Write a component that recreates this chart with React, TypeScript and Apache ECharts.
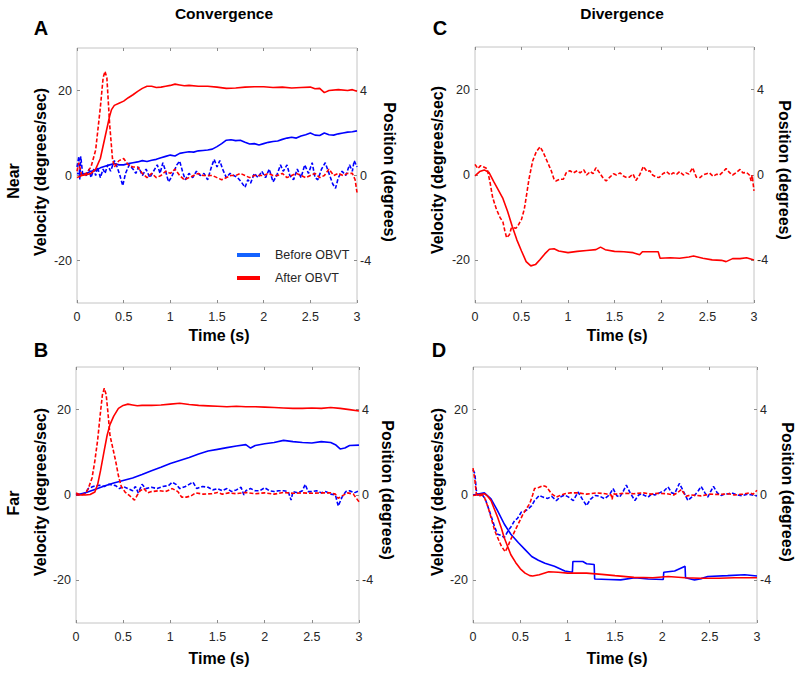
import React, { useEffect, useRef } from "react";
import * as echarts from "echarts";

type Pt = [number, number];

// Axis ticks
const TIME_TICKS_INTERVAL = 0.5;
const VEL_TICKS = [-20, 0, 20];
const POS_TICKS = [-4, 0, 4];

// ---------- Panel A: Near, Convergence ----------
// velocity (deg/s), dashed
const A_VEL_BEFORE: Pt[] = [[0,2],[0.02,4.5],[0.03,-1],[0.04,4.5],[0.06,0.5],[0.1,0],[0.13,1.5],[0.15,-0.5],[0.18,1.5],[0.2,0],[0.22,2],[0.25,-0.5],[0.28,1.5],[0.3,0.5],[0.33,2.5],[0.36,1],[0.4,3.5],[0.43,2],[0.46,0],[0.49,-2.4],[0.52,0.5],[0.56,2.5],[0.6,1.5],[0.63,0.5],[0.66,2],[0.7,0],[0.74,1.5],[0.78,-0.5],[0.82,1],[0.86,2.5],[0.89,0.5],[0.92,3],[0.95,1],[0.98,-1.5],[1.01,-0.5],[1.04,1],[1.07,2.5],[1.1,3.4],[1.13,1],[1.16,-1],[1.2,0.5],[1.24,-0.5],[1.28,1],[1.32,0],[1.36,0.5],[1.4,-1],[1.44,2],[1.47,3.8],[1.5,2],[1.53,3.5],[1.56,1.5],[1.6,-0.5],[1.64,0.5],[1.68,0],[1.72,-0.5],[1.76,-1.5],[1.8,-2.8],[1.83,-1],[1.86,-1.8],[1.9,0.5],[1.94,-0.5],[1.98,1],[2.02,-0.5],[2.06,1.5],[2.1,-1.5],[2.14,0],[2.18,2.5],[2.21,1],[2.25,2.5],[2.28,0],[2.32,-1],[2.36,1.5],[2.4,-0.5],[2.44,2.5],[2.48,0.5],[2.52,3],[2.55,-0.5],[2.58,-1],[2.62,1.5],[2.66,3],[2.7,0.5],[2.74,-2],[2.77,-3],[2.8,-0.5],[2.84,1],[2.88,0],[2.92,2.5],[2.95,1],[2.97,3.5],[3,2]];
const A_VEL_AFTER: Pt[] = [[0,1],[0.02,3],[0.05,0],[0.1,0.5],[0.15,2],[0.2,6],[0.25,16],[0.28,23],[0.3,24.5],[0.32,23],[0.35,12],[0.38,4],[0.4,2],[0.45,3.5],[0.5,4],[0.55,2.5],[0.6,2],[0.65,2],[0.7,0.5],[0.75,-0.5],[0.8,0.5],[0.85,-0.5],[0.9,0],[0.95,1],[1,0.5],[1.05,1.5],[1.1,0],[1.15,-1],[1.2,-0.5],[1.25,0],[1.3,0.5],[1.35,0],[1.4,0],[1.45,0],[1.5,-0.5],[1.55,-1],[1.6,-0.5],[1.65,0],[1.7,0],[1.75,0.5],[1.8,0],[1.85,-0.5],[1.9,0],[1.95,0],[2,0],[2.05,0.5],[2.1,0],[2.15,0],[2.2,0.5],[2.25,-0.5],[2.3,0],[2.35,0.5],[2.4,0],[2.45,-0.5],[2.5,0],[2.55,0.5],[2.6,-0.5],[2.65,0],[2.7,1.5],[2.75,0],[2.8,0.5],[2.85,0],[2.9,0.5],[2.95,0.5],[2.98,-1],[3,-4]];
// position (deg), solid
const A_POS_BEFORE: Pt[] = [[0,0.1],[0.05,0.06],[0.1,0.1],[0.15,0.2],[0.2,0.24],[0.25,0.36],[0.3,0.44],[0.35,0.5],[0.4,0.56],[0.45,0.5],[0.5,0.5],[0.55,0.56],[0.6,0.6],[0.65,0.64],[0.7,0.7],[0.75,0.66],[0.8,0.72],[0.85,0.76],[0.9,0.84],[0.95,0.9],[1,0.96],[1.05,0.92],[1.1,1.04],[1.15,1.08],[1.2,1.12],[1.25,1.1],[1.3,1.16],[1.35,1.18],[1.4,1.2],[1.45,1.24],[1.5,1.36],[1.55,1.5],[1.6,1.66],[1.65,1.68],[1.7,1.64],[1.75,1.66],[1.8,1.56],[1.85,1.48],[1.9,1.5],[1.95,1.44],[2,1.5],[2.05,1.56],[2.1,1.6],[2.15,1.62],[2.2,1.7],[2.25,1.76],[2.3,1.8],[2.35,1.76],[2.4,1.86],[2.45,1.92],[2.5,2],[2.55,1.9],[2.6,1.88],[2.65,2],[2.7,1.92],[2.75,1.9],[2.8,1.96],[2.85,2],[2.9,2.04],[2.95,2.06],[3,2.1]];
const A_POS_AFTER: Pt[] = [[0,-0.1],[0.05,0],[0.1,0.04],[0.15,0.1],[0.2,0.3],[0.25,0.8],[0.3,1.8],[0.35,2.8],[0.37,3.1],[0.4,3.3],[0.45,3.4],[0.5,3.5],[0.55,3.66],[0.6,3.8],[0.65,3.96],[0.7,4.1],[0.75,4.2],[0.8,4.2],[0.85,4.14],[0.9,4.16],[0.95,4.2],[1,4.24],[1.05,4.3],[1.1,4.26],[1.15,4.22],[1.2,4.24],[1.3,4.2],[1.4,4.2],[1.5,4.16],[1.6,4.1],[1.7,4.12],[1.8,4.16],[1.9,4.18],[2,4.18],[2.1,4.14],[2.2,4.16],[2.3,4.12],[2.4,4.14],[2.5,4.16],[2.55,4.08],[2.6,4.1],[2.65,3.9],[2.7,4],[2.8,4.04],[2.9,4],[2.95,4.04],[3,3.96]];

// ---------- Panel B: Far, Convergence ----------
const B_VEL_BEFORE: Pt[] = [[0,0.3],[0.05,0],[0.1,0.5],[0.13,1.5],[0.18,2],[0.25,2.3],[0.3,2],[0.35,2.5],[0.42,2.2],[0.46,1.5],[0.5,2],[0.55,1.5],[0.6,1],[0.63,2],[0.66,0.5],[0.7,2.5],[0.74,1.5],[0.8,1.8],[0.86,1.5],[0.92,2],[0.98,2.2],[1.02,3],[1.06,2.5],[1.1,1.5],[1.16,2],[1.2,2.5],[1.24,3],[1.28,1.5],[1.34,2],[1.4,1.8],[1.45,1.2],[1.5,1.5],[1.55,1],[1.6,1.5],[1.65,0.8],[1.7,1.2],[1.75,1.8],[1.78,0],[1.8,1],[1.85,1.5],[1.9,1],[1.95,1],[2,1.7],[2.05,1],[2.1,0.8],[2.15,1],[2.2,1],[2.25,0.8],[2.28,-1.2],[2.3,0.8],[2.35,0.5],[2.4,1],[2.43,2.5],[2.46,0.8],[2.5,0.8],[2.55,1],[2.6,0.5],[2.65,0.8],[2.7,0.2],[2.75,0],[2.78,-2.6],[2.82,-0.5],[2.86,0.8],[2.9,1],[2.95,0.5],[3,1]];
const B_VEL_AFTER: Pt[] = [[0,0.5],[0.05,0],[0.1,0.3],[0.13,1.5],[0.17,4],[0.2,8],[0.23,13],[0.26,19.5],[0.28,23.5],[0.3,25],[0.32,23.5],[0.34,19],[0.36,14],[0.39,11],[0.42,8],[0.45,4.5],[0.48,2],[0.52,0.7],[0.56,0],[0.6,-0.8],[0.62,-1.2],[0.65,0],[0.68,1],[0.72,1.5],[0.76,0.5],[0.8,0.8],[0.88,1],[0.95,0.8],[1.02,1.5],[1.08,0.8],[1.12,-0.5],[1.17,-0.5],[1.22,-0.2],[1.27,0.5],[1.35,0.2],[1.44,0.3],[1.5,0.6],[1.55,0.2],[1.62,0.5],[1.7,0.3],[1.8,0.6],[1.9,0.3],[2,0.5],[2.1,0.2],[2.2,0.6],[2.3,0.4],[2.4,0.5],[2.5,0.4],[2.6,0.5],[2.7,0.5],[2.75,0.2],[2.78,-0.8],[2.82,-0.2],[2.88,0.5],[2.94,0.2],[3,-1.6]];
const B_POS_BEFORE: Pt[] = [[0,0],[0.1,0.1],[0.2,0.26],[0.3,0.42],[0.4,0.56],[0.5,0.68],[0.6,0.8],[0.7,0.96],[0.8,1.14],[0.9,1.3],[1,1.48],[1.1,1.62],[1.2,1.76],[1.3,1.92],[1.4,2.06],[1.5,2.14],[1.6,2.22],[1.7,2.3],[1.8,2.36],[1.85,2.2],[1.9,2.32],[2,2.4],[2.1,2.46],[2.2,2.56],[2.3,2.5],[2.4,2.46],[2.5,2.44],[2.6,2.5],[2.7,2.46],[2.75,2.36],[2.8,2.16],[2.85,2.2],[2.9,2.32],[3,2.34]];
const B_POS_AFTER: Pt[] = [[0,0],[0.1,0],[0.15,0.02],[0.2,0.14],[0.23,0.5],[0.26,1.14],[0.3,2.1],[0.33,2.8],[0.36,3.3],[0.4,3.7],[0.45,4.06],[0.5,4.2],[0.55,4.26],[0.6,4.22],[0.65,4.18],[0.7,4.2],[0.8,4.2],[0.9,4.22],[1,4.26],[1.1,4.3],[1.2,4.24],[1.3,4.2],[1.4,4.18],[1.5,4.16],[1.6,4.14],[1.7,4.16],[1.8,4.14],[1.9,4.14],[2,4.12],[2.1,4.1],[2.2,4.08],[2.3,4.06],[2.4,4.06],[2.5,4.08],[2.6,4.06],[2.7,4.1],[2.8,4.06],[2.9,4],[3,3.94]];

// ---------- Panel C: Near, Divergence ----------
const C_VEL_AFTER: Pt[] = [[0,2.5],[0.03,1.5],[0.06,2.2],[0.1,1.8],[0.13,1.5],[0.16,-1.5],[0.19,-5.3],[0.23,-8],[0.27,-10],[0.3,-11],[0.32,-13],[0.34,-14.7],[0.37,-14],[0.39,-12.5],[0.41,-12.3],[0.44,-12.5],[0.46,-12],[0.5,-10.4],[0.53,-8],[0.55,-5.3],[0.58,-1],[0.62,3.3],[0.66,5.5],[0.7,6.6],[0.73,5.5],[0.75,4.5],[0.79,2.5],[0.82,1],[0.85,-1],[0.87,-1.4],[0.91,-1],[0.95,-1],[0.98,0.5],[1.02,1],[1.06,0.5],[1.1,1],[1.13,0.5],[1.17,1.2],[1.2,0],[1.24,0.8],[1.27,0.3],[1.3,1.7],[1.34,0.5],[1.38,-0.8],[1.41,-1.4],[1.45,-0.5],[1.49,0.3],[1.52,0],[1.56,0.5],[1.6,-0.3],[1.63,-0.6],[1.66,-0.5],[1.7,0.2],[1.73,-1.3],[1.77,0],[1.81,2],[1.85,0.8],[1.88,1],[1.91,0],[1.95,-0.5],[1.98,-0.6],[2.02,0.3],[2.06,0.8],[2.1,0],[2.13,0.5],[2.17,0.2],[2.2,0.8],[2.24,0],[2.27,0.5],[2.3,0.2],[2.34,1.7],[2.38,-0.5],[2.42,-0.6],[2.45,0],[2.49,0.3],[2.52,0.5],[2.56,-0.3],[2.6,0.2],[2.63,0],[2.67,0.8],[2.7,1.5],[2.74,0.5],[2.77,0],[2.81,0.6],[2.85,1.3],[2.88,0.5],[2.92,0.6],[2.95,0],[2.97,-1.4],[2.98,0],[3,-3.7]];
const C_POS_AFTER: Pt[] = [[0,-0.04],[0.05,0.16],[0.1,0.24],[0.15,0.12],[0.2,-0.3],[0.25,-0.7],[0.3,-1.1],[0.35,-1.7],[0.4,-2.4],[0.45,-3.04],[0.5,-3.56],[0.55,-4.06],[0.6,-4.26],[0.65,-4.2],[0.7,-3.96],[0.75,-3.7],[0.8,-3.48],[0.85,-3.46],[0.9,-3.56],[1,-3.64],[1.1,-3.58],[1.2,-3.54],[1.3,-3.5],[1.35,-3.38],[1.4,-3.5],[1.5,-3.58],[1.6,-3.6],[1.7,-3.64],[1.77,-3.74],[1.8,-3.6],[1.97,-3.6],[1.99,-3.9],[2.1,-3.88],[2.2,-3.9],[2.3,-3.84],[2.35,-3.8],[2.45,-3.9],[2.55,-3.98],[2.65,-4],[2.7,-4.06],[2.77,-3.92],[2.85,-3.92],[2.92,-3.88],[3,-3.98]];

// ---------- Panel D: Far, Divergence ----------
const D_VEL_BEFORE: Pt[] = [[0,5.9],[0.02,5],[0.035,1.1],[0.05,0],[0.1,0],[0.13,-1],[0.16,-2.9],[0.2,-5.5],[0.23,-7.6],[0.26,-9.2],[0.3,-9.5],[0.33,-10],[0.37,-8.4],[0.4,-7.5],[0.44,-6],[0.47,-5.5],[0.51,-4],[0.55,-3.8],[0.58,-3.3],[0.62,-2.5],[0.65,-1.3],[0.7,-0.1],[0.74,-0.5],[0.79,-0.8],[0.83,-0.3],[0.88,-1.3],[0.92,-0.5],[0.97,0],[1.01,-0.5],[1.06,-1.3],[1.11,0.7],[1.15,-0.8],[1.2,-2.5],[1.24,-1],[1.29,-0.1],[1.34,-0.3],[1.39,-0.9],[1.44,0],[1.48,1.5],[1.52,-0.2],[1.55,-0.5],[1.59,1],[1.62,2.3],[1.66,0.5],[1.71,-1.3],[1.75,0],[1.78,0.3],[1.82,-0.2],[1.85,-0.5],[1.89,0.3],[1.92,0],[1.97,0.5],[2.02,1],[2.06,1.9],[2.1,0.5],[2.13,0.3],[2.18,2.7],[2.22,1],[2.27,-1.3],[2.31,-0.5],[2.34,-0.1],[2.38,1],[2.41,2],[2.45,0.5],[2.48,-0.5],[2.51,0.8],[2.54,2],[2.58,0.5],[2.62,-0.1],[2.66,0.2],[2.7,0.3],[2.73,0.5],[2.78,0.1],[2.84,-0.2],[2.9,0.2],[2.95,0],[3,-0.2]];
const D_VEL_AFTER: Pt[] = [[0,6.3],[0.02,3.5],[0.035,0.3],[0.06,-0.3],[0.09,0],[0.12,-0.5],[0.16,-2.9],[0.2,-6],[0.23,-8.4],[0.27,-10.5],[0.3,-12],[0.34,-13.3],[0.37,-12],[0.39,-10.8],[0.43,-9],[0.46,-7.6],[0.5,-5.8],[0.53,-4.4],[0.57,-3],[0.6,-2],[0.63,0],[0.65,1.5],[0.7,1.8],[0.74,2.2],[0.77,2],[0.79,1.5],[0.83,0.3],[0.88,-0.5],[0.93,0],[0.97,0.3],[1.03,0.5],[1.11,0.5],[1.2,0.2],[1.3,0.5],[1.4,0.3],[1.46,0],[1.47,-1],[1.48,0.3],[1.5,0.2],[1.6,0.4],[1.7,0.3],[1.8,0.5],[1.88,0.2],[1.95,0.4],[2.05,0.3],[2.12,0],[2.17,0.7],[2.2,1.3],[2.25,-0.3],[2.3,0],[2.41,-0.2],[2.5,0.2],[2.6,0.1],[2.7,0.3],[2.76,0],[2.85,0.2],[2.92,0.5],[2.96,0.2],[3,1.1]];
const D_POS_BEFORE: Pt[] = [[0,0],[0.12,0.1],[0.19,-0.18],[0.26,-0.74],[0.33,-1.36],[0.4,-1.84],[0.48,-2.24],[0.55,-2.56],[0.62,-2.88],[0.69,-3.06],[0.76,-3.2],[0.86,-3.34],[0.97,-3.56],[1.05,-3.62],[1.055,-3.12],[1.16,-3.12],[1.2,-3.22],[1.28,-3.26],[1.285,-3.94],[1.43,-3.96],[1.56,-3.98],[1.71,-3.88],[1.85,-3.94],[2.01,-3.96],[2.015,-3.62],[2.13,-3.56],[2.2,-3.42],[2.24,-3.34],[2.245,-3.88],[2.34,-3.98],[2.41,-3.92],[2.48,-3.82],[2.69,-3.78],[2.87,-3.74],[3,-3.8]];
const D_POS_AFTER: Pt[] = [[0,-0.02],[0.12,0.06],[0.15,-0.04],[0.19,-0.26],[0.22,-0.6],[0.26,-1.04],[0.3,-1.56],[0.33,-2],[0.37,-2.46],[0.4,-2.8],[0.45,-3.16],[0.5,-3.46],[0.55,-3.66],[0.6,-3.78],[0.63,-3.8],[0.7,-3.74],[0.8,-3.6],[0.9,-3.62],[1,-3.66],[1.2,-3.66],[1.36,-3.72],[1.5,-3.78],[1.7,-3.86],[1.9,-3.88],[2.06,-3.82],[2.24,-3.88],[2.4,-3.9],[2.6,-3.9],[2.76,-3.88],[3,-3.88]];

const RED = "#ff0000";
const BLUE = "#0000ff";
const LEGEND_BLUE = "#1463ff";
const FONT = "'Liberation Sans', Arial, Helvetica, sans-serif";
const BOX = "#c4c4c4";
const TXT = "#262626";

type SeriesDef = { data: Pt[]; pos: boolean; color: string; dashed: boolean };

const PANELS: { grid: { left: number; top: number; width: number; height: number }; series: SeriesDef[] }[] = [
  {
    grid: { left: 77, top: 48, width: 280, height: 255 },
    series: [
      { data: A_POS_BEFORE, pos: true, color: BLUE, dashed: false },
      { data: A_VEL_BEFORE, pos: false, color: BLUE, dashed: true },
      { data: A_POS_AFTER, pos: true, color: RED, dashed: false },
      { data: A_VEL_AFTER, pos: false, color: RED, dashed: true },
    ],
  },
  {
    grid: { left: 475, top: 47, width: 279, height: 256 },
    series: [
      { data: C_POS_AFTER, pos: true, color: RED, dashed: false },
      { data: C_VEL_AFTER, pos: false, color: RED, dashed: true },
    ],
  },
  {
    grid: { left: 76, top: 367, width: 283, height: 256 },
    series: [
      { data: B_POS_BEFORE, pos: true, color: BLUE, dashed: false },
      { data: B_VEL_BEFORE, pos: false, color: BLUE, dashed: true },
      { data: B_POS_AFTER, pos: true, color: RED, dashed: false },
      { data: B_VEL_AFTER, pos: false, color: RED, dashed: true },
    ],
  },
  {
    grid: { left: 473, top: 367, width: 284, height: 256 },
    series: [
      { data: D_POS_BEFORE, pos: true, color: BLUE, dashed: false },
      { data: D_VEL_BEFORE, pos: false, color: BLUE, dashed: true },
      { data: D_POS_AFTER, pos: true, color: RED, dashed: false },
      { data: D_VEL_AFTER, pos: false, color: RED, dashed: true },
    ],
  },
];

function text(t: string, x: number, y: number, size: number, bold: boolean, rotation = 0, align = "center") {
  return {
    type: "text",
    x,
    y,
    rotation,
    style: {
      text: t,
      fontSize: size,
      fontWeight: bold ? "bold" : "normal",
      fontFamily: FONT,
      fill: bold ? "#000" : TXT,
      align,
      verticalAlign: "middle",
    },
  };
}

export default function App() {
  const ref = useRef<HTMLDivElement>(null);
  useEffect(() => {
    if (!ref.current) return;
    const chart = echarts.init(ref.current, undefined, { renderer: "svg" });
    const grid: any[] = [];
    const xAxis: any[] = [];
    const yAxis: any[] = [];
    const series: any[] = [];
    const tickStyle = { lineStyle: { color: "#8c8c8c", width: 1 } };
    const noLine = { show: false, onZero: false };
    PANELS.forEach((p, g) => {
      grid.push({ ...p.grid, show: true, borderColor: BOX, borderWidth: 1, backgroundColor: "#fff" });
      xAxis.push({
        gridIndex: g, type: "value", min: 0, max: 3, interval: TIME_TICKS_INTERVAL, position: "bottom",
        axisLine: noLine, splitLine: { show: false },
        axisTick: { show: true, inside: true, length: 3, ...tickStyle },
        axisLabel: { fontSize: 12.5, color: TXT, fontFamily: FONT, margin: 7 },
      });
      xAxis.push({
        gridIndex: g, type: "value", min: 0, max: 3, interval: TIME_TICKS_INTERVAL, position: "top",
        axisLine: noLine, splitLine: { show: false },
        axisTick: { show: true, inside: true, length: 3, ...tickStyle },
        axisLabel: { show: false },
      });
      yAxis.push({
        gridIndex: g, type: "value", min: -30, max: 30, position: "left",
        axisLine: noLine, splitLine: { show: false },
        axisTick: { show: true, inside: true, length: 3, customValues: VEL_TICKS, ...tickStyle },
        axisLabel: { customValues: VEL_TICKS, fontSize: 12.5, color: TXT, fontFamily: FONT, margin: 5 },
      });
      yAxis.push({
        gridIndex: g, type: "value", min: -6, max: 6, position: "right",
        axisLine: noLine, splitLine: { show: false },
        axisTick: { show: true, inside: true, length: 3, customValues: POS_TICKS, ...tickStyle },
        axisLabel: { customValues: POS_TICKS, fontSize: 12.5, color: TXT, fontFamily: FONT, margin: 3 },
      });
      p.series.forEach((s) => {
        series.push({
          type: "line",
          xAxisIndex: 2 * g,
          yAxisIndex: 2 * g + (s.pos ? 1 : 0),
          data: s.data,
          showSymbol: false,
          symbol: "none",
          silent: true,
          lineStyle: { color: s.color, width: 1.6, type: s.dashed ? [4, 2] : "solid" },
        });
      });
    });

    const graphic: any[] = [
      text("Convergence", 224, 13, 15.5, true),
      text("Divergence", 622, 13, 15.5, true),
      text("A", 41, 28, 20, true),
      text("C", 440, 28, 20, true),
      text("B", 41, 350, 20, true),
      text("D", 439, 350, 20, true),
      text("Near", 13, 181, 16, true, Math.PI / 2),
      text("Far", 13, 503, 16, true, Math.PI / 2),
      text("Velocity (degrees/sec)", 40, 172, 16, true, Math.PI / 2),
      text("Velocity (degrees/sec)", 437, 170, 16, true, Math.PI / 2),
      text("Velocity (degrees/sec)", 40, 492, 16, true, Math.PI / 2),
      text("Velocity (degrees/sec)", 437, 492, 16, true, Math.PI / 2),
      text("Position (degrees)", 389, 172, 16, true, -Math.PI / 2),
      text("Position (degrees)", 784, 170, 16, true, -Math.PI / 2),
      text("Position (degrees)", 387, 490, 16, true, -Math.PI / 2),
      text("Position (degrees)", 787, 492, 16, true, -Math.PI / 2),
      text("Time (s)", 219, 335, 16, true),
      text("Time (s)", 617, 335, 16, true),
      text("Time (s)", 219, 658, 16, true),
      text("Time (s)", 617, 658, 16, true),
      { type: "line", shape: { x1: 237, y1: 255, x2: 260, y2: 255 }, style: { stroke: LEGEND_BLUE, lineWidth: 4 } },
      { type: "line", shape: { x1: 237, y1: 278, x2: 260, y2: 278 }, style: { stroke: RED, lineWidth: 4 } },
      text("Before OBVT", 275, 255, 12.5, false, 0, "left"),
      text("After OBVT", 275, 278, 12.5, false, 0, "left"),
    ];

    chart.setOption({
      animation: false,
      backgroundColor: "#fff",
      grid,
      xAxis,
      yAxis,
      series,
      graphic,
    });
    return () => chart.dispose();
  }, []);
  return <div ref={ref} style={{ position: "fixed", left: 0, top: 0, width: 800, height: 674 }} />;
}
